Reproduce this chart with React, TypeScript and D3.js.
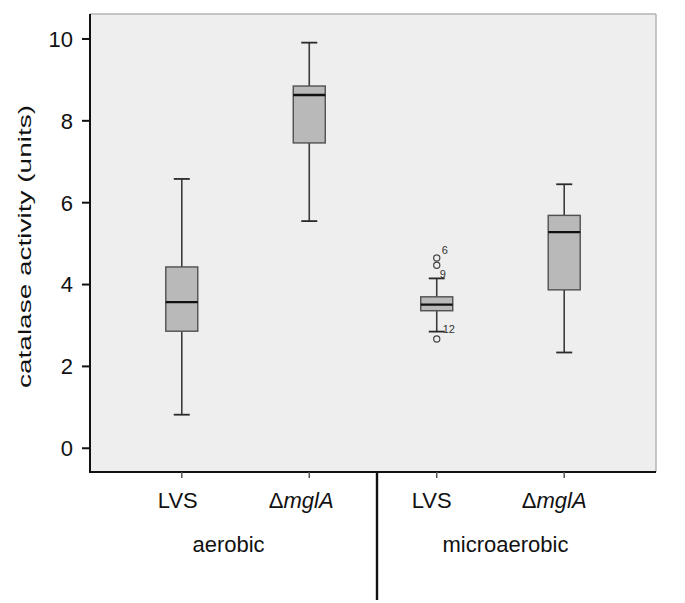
import React from "react";
import * as d3 from "d3";

const groups = ["aerobic", "microaerobic"];
const categories = ["LVS", "ΔmglA", "LVS", "ΔmglA"];
const categoryGroup = [0, 0, 1, 1];
const whiskerLow = [0.82, 5.55, 2.85, 2.34];
const q1 = [2.86, 7.46, 3.36, 3.87];
const medians = [3.57, 8.63, 3.51, 5.28];
const q3 = [4.43, 8.85, 3.7, 5.69];
const whiskerHigh = [6.58, 9.91, 4.15, 6.45];
const outlierCategory = [2, 2, 2];
const outlierValues = [4.65, 4.47, 2.67];
const outlierLabels = ["6", "9", "12"];
const yTicks = [0, 2, 4, 6, 8, 10];
const yTitle = "catalase activity (units)";

const W = 685;
const H = 603;
const left = 90;
const right = 656;
const top = 14;
const bottom = 472;
const FONT = "'Liberation Sans', Arial, Helvetica, sans-serif";

export default function App() {
  const ids = categories.map((_, i) => String(i));
  const x = d3.scalePoint<string>().domain(ids).range([left, right]).padding(0.72);
  const y = d3.scaleLinear().domain([-0.58, 10.61]).range([bottom, top]);
  const boxW = 32;
  const capW = 16;
  const labelDy = [-4, 13, -6];
  const labelDx = [5, 3, 6];
  const catLabelShift = [-4, -8, -5, -10];

  const groupCenters = groups.map((_, g) => {
    const xs = ids.filter((_, i) => categoryGroup[i] === g).map((id) => x(id) as number);
    return d3.mean(xs) as number;
  });
  const groupShift = [-17, 5];
  const dividerX = ((x("1") as number) + (x("2") as number)) / 2 + 4;

  return (
    <svg
      width={W}
      height={H}
      style={{ position: "absolute", left: 0, top: 0, background: "#fff" }}
      fontFamily={FONT}
    >
      <rect x={left} y={top} width={right - left} height={bottom - top} fill="#eeeeee" />
      <line x1={left} x2={right} y1={top} y2={top} stroke="#b4b4b4" strokeWidth={1.5} />
      <line x1={right} x2={right} y1={top} y2={bottom} stroke="#b4b4b4" strokeWidth={1.5} />

      {ids.map((id, i) => {
        const cx = x(id) as number;
        return (
          <g key={id}>
            <line x1={cx} x2={cx} y1={y(whiskerHigh[i])} y2={y(q3[i])} stroke="#3a3a3a" strokeWidth={1.6} />
            <line x1={cx} x2={cx} y1={y(q1[i])} y2={y(whiskerLow[i])} stroke="#3a3a3a" strokeWidth={1.6} />
            <line x1={cx - capW / 2} x2={cx + capW / 2} y1={y(whiskerHigh[i])} y2={y(whiskerHigh[i])} stroke="#2a2a2a" strokeWidth={1.8} />
            <line x1={cx - capW / 2} x2={cx + capW / 2} y1={y(whiskerLow[i])} y2={y(whiskerLow[i])} stroke="#2a2a2a" strokeWidth={1.8} />
            <rect
              x={cx - boxW / 2}
              y={y(q3[i])}
              width={boxW}
              height={y(q1[i]) - y(q3[i])}
              fill="#b9b9b9"
              stroke="#505050"
              strokeWidth={1.4}
            />
            <line x1={cx - boxW / 2} x2={cx + boxW / 2} y1={y(medians[i])} y2={y(medians[i])} stroke="#111" strokeWidth={2.4} />
          </g>
        );
      })}

      {outlierValues.map((v, k) => {
        const cx = x(String(outlierCategory[k])) as number;
        return (
          <g key={"o" + k}>
            <circle cx={cx} cy={y(v)} r={3.1} fill="none" stroke="#444" strokeWidth={1.2} />
            <text x={cx + labelDx[k]} y={y(v) + labelDy[k]} fontSize={11} fill="#333">
              {outlierLabels[k]}
            </text>
          </g>
        );
      })}

      {/* y axis */}
      <line x1={left} x2={left} y1={top} y2={bottom + 1} stroke="#111" strokeWidth={2} />
      {yTicks.map((t) => (
        <g key={t}>
          <line x1={left - 8} x2={left} y1={y(t)} y2={y(t)} stroke="#111" strokeWidth={2} />
          <text x={left - 17} y={y(t)} dy="0.36em" textAnchor="end" fontSize={22} fill="#111">
            {t}
          </text>
        </g>
      ))}
      <text
        transform={`translate(31,${(105 + 388) / 2}) rotate(-90)`}
        textAnchor="middle"
        fontSize={19}
        fill="#111"
        textLength={283}
        lengthAdjust="spacingAndGlyphs"
      >
        {yTitle}
      </text>

      {/* x axis */}
      <line x1={left - 1} x2={right} y1={bottom} y2={bottom} stroke="#111" strokeWidth={2} />
      {ids.map((id, i) => {
        const cx = x(id) as number;
        const name = categories[i];
        return (
          <g key={"x" + id}>
            <line x1={cx} x2={cx} y1={bottom} y2={bottom + 6} stroke="#555" strokeWidth={1.5} />
            <text x={cx + catLabelShift[i]} y={508} textAnchor="middle" fontSize={22} fill="#111">
              {name.startsWith("Δ") ? (
                <>
                  <tspan>Δ</tspan>
                  <tspan fontStyle="italic">{name.slice(1)}</tspan>
                </>
              ) : (
                name
              )}
            </text>
          </g>
        );
      })}
      {groups.map((g, k) => (
        <text key={g} x={groupCenters[k] + groupShift[k]} y={552} textAnchor="middle" fontSize={22} fill="#111">
          {g}
        </text>
      ))}
      <line x1={dividerX} x2={dividerX} y1={bottom} y2={600} stroke="#111" strokeWidth={2.4} />
    </svg>
  );
}
